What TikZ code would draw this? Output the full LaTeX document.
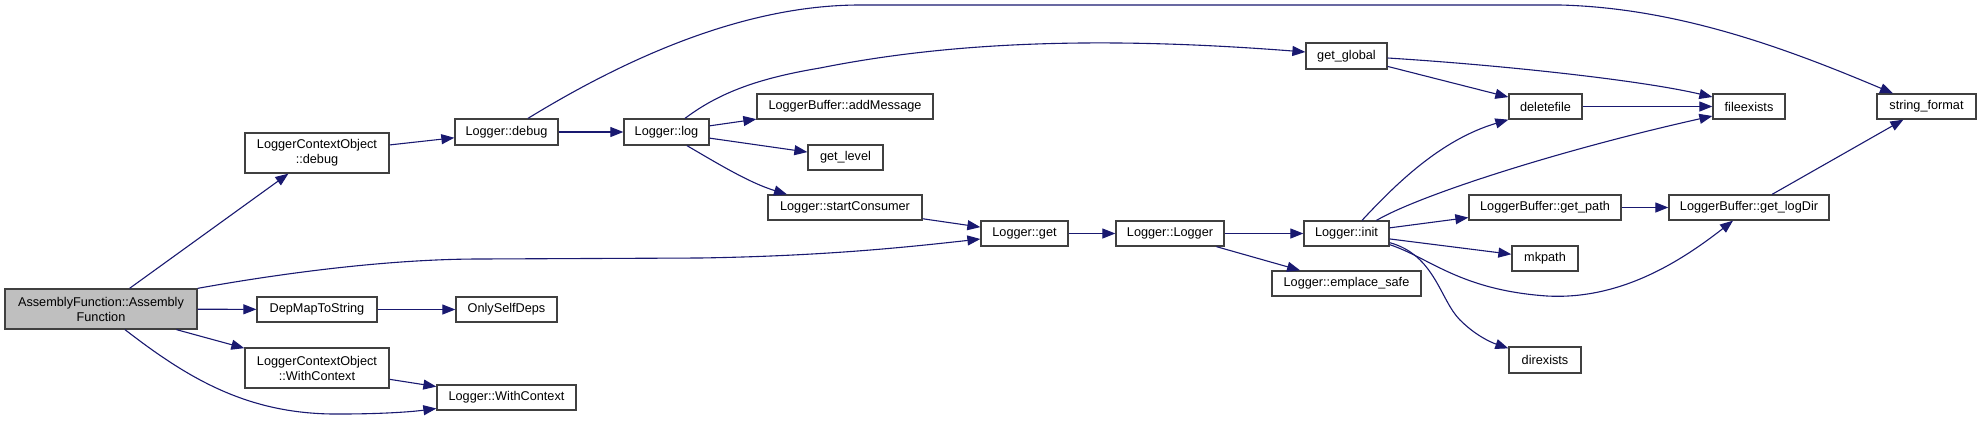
\documentclass[tikz,border=0pt]{standalone}
\usepackage{fontspec}
\setmainfont{Liberation Sans}
\usetikzlibrary{arrows.meta}
\definecolor{edgeblue}{HTML}{191970}
\definecolor{boxgray}{HTML}{BFBFBF}
\definecolor{boxline}{HTML}{404040}

\begin{document}
\begin{tikzpicture}[
  x=1pt,
  y=-1pt,
  font=\fontsize{12.7}{15}\selectfont,
  fn/.style={draw=boxline, line width=1.3pt, fill=white, inner sep=0pt, minimum height=25pt, align=center},
  call/.style={draw=edgeblue, line width=1.1pt, -{Triangle[length=13pt,width=10pt]}}
]
\useasboundingbox (0,0) rectangle (1981,421);

% caller
\node[fn, fill=boxgray, minimum width=192pt, minimum height=40pt] (af) at (101,309) {AssemblyFunction::Assembly\\Function};

% second column
\node[fn, minimum width=144pt, minimum height=40pt] (lcodebug) at (317,153) {LoggerContextObject\\::debug};
\node[fn, minimum width=120pt] (depmap) at (317,309.5) {DepMapToString};
\node[fn, minimum width=144pt, minimum height=40pt] (lcowith) at (317,368) {LoggerContextObject\\::WithContext};

% third column
\node[fn, minimum width=103pt, minimum height=26pt] (ldebug) at (506.5,132) {Logger::debug};
\node[fn, minimum width=101pt] (onlyself) at (506.5,309.5) {OnlySelfDeps};
\node[fn, minimum width=139pt] (lwith) at (506.5,397.5) {Logger::WithContext};

% Logger::log and its callees
\node[fn, minimum width=85pt, minimum height=26pt] (llog) at (666.5,132) {Logger::log};
\node[fn, minimum width=176pt] (addmsg) at (845,106.5) {LoggerBuffer::addMessage};
\node[fn, minimum width=75pt] (getlevel) at (845.5,157.5) {get\_level};
\node[fn, minimum width=154pt] (startcons) at (845,207.5) {Logger::startConsumer};

% construction chain
\node[fn, minimum width=87pt] (lget) at (1024.5,233.5) {Logger::get};
\node[fn, minimum width=108pt] (llogger) at (1170,233.5) {Logger::Logger};
\node[fn, minimum width=85pt] (linit) at (1346.5,233.5) {Logger::init};
\node[fn, minimum width=149pt] (emplace) at (1346.5,283.5) {Logger::emplace\_safe};
\node[fn, minimum width=81pt, minimum height=26pt] (getglobal) at (1346.5,56) {get\_global};

% helpers
\node[fn, minimum width=73pt] (deletefile) at (1545.5,106.5) {deletefile};
\node[fn, minimum width=152pt] (getpath) at (1545,207.5) {LoggerBuffer::get\_path};
\node[fn, minimum width=66pt] (mkpath) at (1545,258.5) {mkpath};
\node[fn, minimum width=72pt, minimum height=26pt] (direxists) at (1545,360) {direxists};
\node[fn, minimum width=72pt] (fileexists) at (1749,106.5) {fileexists};
\node[fn, minimum width=160pt] (getlogdir) at (1749,207.5) {LoggerBuffer::get\_logDir};
\node[fn, minimum width=99pt] (strformat) at (1926.5,106.5) {string\_format};

% calls from the caller
\draw[call] (af) -- (lcodebug);
\draw[call] (af) -- (depmap);
\draw[call] (af) -- (lcowith);
\draw[call] (af.north east) .. controls (300,270) and (400,259) .. (480,259) -- (700,258)
  .. controls (820,256) and (900,248) .. ([yshift=-5.5pt]lget.west);
\draw[call] ([xshift=24pt]af.south) .. controls (190,380) and (250,415) .. (340,414)
  .. controls (380,414) and (410,412) .. ([yshift=-11pt]lwith.west);

\draw[call] (lcodebug) -- (ldebug);
\draw[call] (depmap) -- (onlyself);
\draw[call] (lcowith) -- (lwith);

% Logger::debug
\draw[call] (ldebug) -- (llog);
\draw[call] ([xshift=21.5pt]ldebug.north) .. controls (620,62) and (740,5) .. (860,5) -- (1560,5)
  .. controls (1680,8) and (1790,50) .. ([xshift=-33.5pt]strformat.north);

% Logger::log
\draw[call] (llog) -- (addmsg);
\draw[call] (llog) -- (getlevel);
\draw[call] ([xshift=20.5pt]llog.south) .. controls (720,165) and (750,183) .. ([xshift=-58pt]startcons.north);
\draw[call] ([xshift=18.5pt]llog.north) .. controls (720,92) and (760,78) .. (820,68)
  .. controls (950,42) and (1100,36) .. ([yshift=4pt]getglobal.west);
\draw[call] (startcons) -- (lget);

\draw[call] (lget) -- (llogger);
\draw[call] (llogger) -- (linit);
\draw[call] (llogger) -- (emplace);

% Logger::init
\draw[call] ([xshift=15.5pt]linit.north) .. controls (1395,185) and (1440,140) .. (deletefile.south west);
\draw[call] ([xshift=30pt]linit.north) .. controls (1420,195) and (1560,150) .. ([yshift=-9.5pt]fileexists.west);
\draw[call] (linit) -- (getpath);
\draw[call] (linit) -- (mkpath);
\draw[call] ([yshift=2pt]linit.south east) .. controls (1430,258) and (1460,290) .. (1547,296)
  .. controls (1620,300) and (1680,262) .. ([xshift=-16pt]getlogdir.south);
\draw[call] ([yshift=4pt]linit.south east) .. controls (1435,255) and (1440,300) .. (1460,320)
  .. controls (1475,335) and (1490,342) .. ([yshift=-2pt]direxists.north west);

% get_global
\draw[call] (getglobal) -- (deletefile);
\draw[call] ([yshift=-2pt]getglobal.east) .. controls (1500,65) and (1640,80) .. ([yshift=9.5pt]fileexists.west);

\draw[call] (deletefile) -- (fileexists);
\draw[call] (getpath) -- (getlogdir);
\draw[call] (getlogdir) -- (strformat);
\end{tikzpicture}
\end{document}
